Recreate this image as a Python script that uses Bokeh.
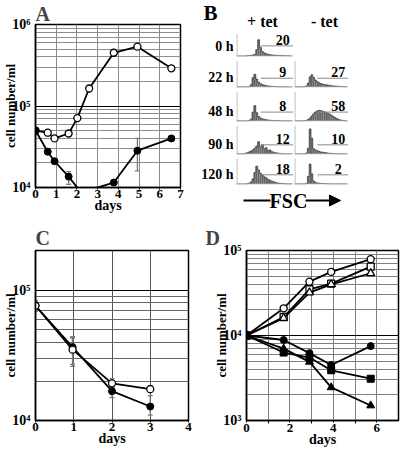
import numpy as np
from bokeh.plotting import figure
from bokeh.models import (FixedTicker, ColumnDataSource, Whisker, TeeHead, Arrow,
                          NormalHead, Range1d, Spacer, Span)
from bokeh.layouts import row, column
from bokeh.embed import file_html
from bokeh.resources import INLINE
from bokeh.core.properties import value

FONT = "Liberation Serif"

# ---------------- Panel A data ----------------
a_days_open = [0, 0.59, 0.92, 1.6, 2.02, 2.59, 3.78, 4.92, 6.56]
a_open = [5.0e4, 4.7e4, 4.0e4, 4.6e4, 7.1e4, 1.64e5, 4.5e5, 5.35e5, 2.9e5]
a_days_filled = [0, 0.59, 0.92, 1.6, 2.2, 3.78, 4.92, 6.56]
a_filled = [5.0e4, 2.75e4, 2.1e4, 1.36e4, 8.7e3, 1.15e4, 2.83e4, 4.0e4]
a_err_days = [0.59, 1.6, 4.92]
a_err_upper = [3.0e4, 1.57e4, 4.0e4]
a_err_lower = [2.6e4, 1.09e4, 1.6e4]

# ---------------- Panel C data ----------------
c_days = [0, 0.97, 2.0, 3.0]
c_open = [7.6e4, 3.5e4, 1.93e4, 1.74e4]
c_filled = [7.6e4, 3.66e4, 1.68e4, 1.28e4]
c_open_upper = [8.4e4, 4.4e4, 2.1e4, 1.85e4]
c_open_lower = [6.9e4, 2.7e4, 1.8e4, 1.65e4]
c_filled_upper = [8.2e4, 4.3e4, 1.85e4, 1.55e4]
c_filled_lower = [7.0e4, 2.6e4, 1.5e4, 1.1e4]

# ---------------- Panel D data ----------------
d_days = [0, 1.71, 2.9, 3.9, 5.72]
d_open_circle = [1e4, 2.09e4, 4.3e4, 5.6e4, 7.9e4]
d_open_square = [1e4, 1.65e4, 3.5e4, 4.07e4, 6.45e4]
d_open_triangle = [1e4, 1.6e4, 3.2e4, 4.0e4, 5.4e4]
d_filled_circle = [1e4, 8.85e3, 6.2e3, 4.5e3, 7.5e3]
d_filled_square = [1e4, 6.3e3, 5.5e3, 3.9e3, 3.1e3]
d_filled_triangle = [1e4, 7.0e3, 4.9e3, 2.45e3, 1.5e3]

# ---------------- Panel B data (FSC histograms, 30 bins each) ----------------
row_labels = ["0 h", "22 h", "48 h", "90 h", "120 h"]
hist_plus_0 = [0,0,0,0,0,1,2,3,4,8,28,72,38,20,14,10,8,6,5,4,3,3,2,2,1,1,1,1,0,0]
hist_plus_22 = [0,0,0,0,0,0,1,8,35,48,30,18,12,9,7,5,4,3,2,2,1,1,0,0,0,0,0,0,0,0]
hist_plus_48 = [0,0,0,0,0,0,1,6,30,52,28,15,10,7,5,4,3,2,2,1,1,1,0,0,0,0,0,0,0,0]
hist_plus_90 = [0,0,0,0,2,4,7,10,14,20,28,43,25,32,18,22,12,14,8,6,4,3,2,1,0,0,0,0,0,0]
hist_plus_120 = [0,0,0,0,0,1,3,8,20,45,70,55,42,35,28,24,18,15,11,9,6,4,3,2,1,1,0,0,0,0]
hist_minus_22 = [0,0,0,0,0,1,4,15,38,46,36,26,20,16,13,11,9,8,7,6,5,4,3,3,2,2,1,1,0,0]
hist_minus_48 = [0,0,0,0,0,0,2,5,10,17,24,30,34,36,35,33,31,28,26,23,19,15,11,8,5,3,2,1,0,0]
hist_minus_90 = [0,0,0,0,0,0,3,20,88,55,18,14,11,9,7,6,5,4,3,2,2,1,1,1,0,0,0,0,0,0]
hist_minus_120 = [0,0,0,0,0,0,2,30,78,40,12,6,4,3,2,2,1,1,1,0,0,0,0,0,0,0,0,0,0,0]
pct_plus = [20, 9, 8, 12, 18]
pct_minus = [None, 27, 58, 10, 2]
gate_level = [45, 33, 30, 32, 36]


def style_log_fig(p):
    p.outline_line_color = "black"
    p.outline_line_width = 1.5
    p.axis.axis_line_width = 1.5
    p.axis.axis_line_color = "black"
    p.axis.major_tick_in = 0
    p.xaxis.major_tick_out = 2
    p.yaxis.major_tick_out = 0
    p.axis.minor_tick_line_color = None
    p.axis.major_label_text_font = FONT
    p.axis.major_label_text_font_style = "bold"
    p.yaxis.major_label_text_font_size = "14px"
    p.xaxis.major_label_text_font_size = "13px"
    p.axis.major_label_text_color = "black"
    p.yaxis.major_label_standoff = 1
    p.xaxis.major_label_standoff = 0
    p.axis.axis_label_text_font = FONT
    p.axis.axis_label_text_font_style = "bold"
    p.axis.axis_label_text_color = "black"
    p.xaxis.axis_label = "days"
    p.xaxis.axis_label_text_font_size = "14px"
    p.xaxis.axis_label_standoff = -3
    p.yaxis.axis_label = "cell number/ml"
    p.yaxis.axis_label_text_font_size = "13px"
    p.yaxis.axis_label_standoff = -9
    p.title.text_font = FONT
    p.title.text_font_style = "bold"
    p.title.text_font_size = "20px"
    p.title.standoff = 0


def sup_labels(vals):
    sup = {3: "10\u00b3", 4: "10\u2074", 5: "10\u2075", 6: "10\u2076"}
    return {v: sup[int(round(np.log10(v)))] for v in vals}


def minor_list(decades):
    return [m * 10.0 ** d for d in decades for m in range(2, 10)]


def open_marker(p, x, y, marker="circle", size=7):
    p.scatter(x, y, marker=marker, size=size, fill_color="white", line_color="black", line_width=1.3)


def filled_marker(p, x, y, marker="circle", size=7):
    p.scatter(x, y, marker=marker, size=size, fill_color="black", line_color="black", line_width=1.0)


def add_err(p, x, up, lo):
    src = ColumnDataSource(dict(x=x, upper=up, lower=lo))
    w = Whisker(source=src, base="x", upper="upper", lower="lower",
                line_color="#7a7a7a", line_width=1.3,
                upper_head=TeeHead(size=5, line_color="#7a7a7a", line_width=1.3),
                lower_head=TeeHead(size=5, line_color="#7a7a7a", line_width=1.3))
    p.add_layout(w)


# ---------------- Panel A ----------------
pA = figure(width=200, height=222, x_range=Range1d(0, 7), y_range=Range1d(1e4, 1e6),
            y_axis_type="log", output_backend="svg", toolbar_location=None, title="A",
            min_border_left=33, min_border_right=20, min_border_top=23, min_border_bottom=35)
style_log_fig(pA)
yt = [1e4, 1e5, 1e6]
pA.yaxis.ticker = FixedTicker(ticks=yt, minor_ticks=minor_list([4, 5]))
pA.yaxis.major_label_overrides = sup_labels(yt)
pA.xaxis.ticker = FixedTicker(ticks=list(range(0, 8)))
pA.ygrid.grid_line_color = "black"
pA.ygrid.grid_line_width = 1.2
pA.ygrid.minor_grid_line_color = "#8c8c8c"
pA.xgrid.grid_line_color = "#8c8c8c"
add_err(pA, a_err_days, a_err_upper, a_err_lower)
pA.line(a_days_open, a_open, line_color="black", line_width=1.8)
open_marker(pA, a_days_open, a_open)
pA.line(a_days_filled, a_filled, line_color="black", line_width=1.8)
filled_marker(pA, a_days_filled, a_filled)

# ---------------- Panel C ----------------
pC = figure(width=200, height=228, x_range=Range1d(0, 4), y_range=Range1d(1e4, 2.02e5),
            y_axis_type="log", output_backend="svg", toolbar_location=None, title="C",
            min_border_left=33, min_border_right=12, min_border_top=26, min_border_bottom=30)
style_log_fig(pC)
pC.title.standoff = 3
ytc = [1e4, 1e5]
pC.yaxis.ticker = FixedTicker(ticks=ytc, minor_ticks=minor_list([4]))
pC.yaxis.major_label_overrides = sup_labels(ytc)
pC.xaxis.ticker = FixedTicker(ticks=[0, 1, 2, 3, 4])
pC.ygrid.grid_line_color = "black"
pC.ygrid.grid_line_width = 1.2
pC.ygrid.minor_grid_line_color = "#666666"
pC.xgrid.grid_line_color = "#555555"
add_err(pC, c_days, c_filled_upper, c_filled_lower)
add_err(pC, c_days, c_open_upper, c_open_lower)
pC.line(c_days, c_filled, line_color="black", line_width=1.8)
filled_marker(pC, c_days, c_filled)
pC.line(c_days, c_open, line_color="black", line_width=1.8)
open_marker(pC, c_days, c_open)

# ---------------- Panel D ----------------
pD = figure(width=200, height=228, x_range=Range1d(0, 7), y_range=Range1d(1e3, 1e5),
            y_axis_type="log", output_backend="svg", toolbar_location=None, title="D",
            min_border_left=46, min_border_right=2, min_border_top=27, min_border_bottom=30)
style_log_fig(pD)
pD.title.standoff = 4
pD.title.offset = -41
ytd = [1e3, 1e4, 1e5]
pD.yaxis.ticker = FixedTicker(ticks=ytd, minor_ticks=minor_list([3, 4]))
pD.yaxis.major_label_overrides = sup_labels(ytd)
pD.xaxis.ticker = FixedTicker(ticks=[0, 2, 4, 6], minor_ticks=[1, 3, 5])
pD.xaxis.minor_tick_line_color = "black"
pD.xaxis.minor_tick_in = 0
pD.xaxis.minor_tick_out = 3
pD.ygrid.grid_line_color = "black"
pD.ygrid.grid_line_width = 1.2
pD.ygrid.minor_grid_line_color = "#808080"
pD.xgrid.grid_line_color = "#808080"
pD.xgrid.minor_grid_line_color = "#808080"
for ys, mk, sz in [(d_open_circle, "circle", 7), (d_open_square, "square", 7),
                   (d_open_triangle, "triangle", 8)]:
    pD.line(d_days, ys, line_color="black", line_width=1.8)
    open_marker(pD, d_days, ys, mk, sz)
for ys, mk, sz in [(d_filled_circle, "circle", 7), (d_filled_square, "square", 7),
                   (d_filled_triangle, "triangle", 8)]:
    pD.line(d_days, ys, line_color="black", line_width=1.8)
    filled_marker(pD, d_days, ys, mk, sz)


# ---------------- Panel B ----------------
def blank_fig(w, h, xr, yr):
    f = figure(width=w, height=h, x_range=xr, y_range=yr, output_backend="svg",
               toolbar_location=None, x_axis_location=None, y_axis_location=None,
               min_border=0, min_border_left=0, min_border_right=0,
               min_border_top=0, min_border_bottom=0)
    f.grid.visible = False
    f.outline_line_color = None
    return f


def hist_fig(counts, gate_y, pct, width, height):
    p = figure(width=width, height=height, x_range=Range1d(-8, 1024), y_range=Range1d(-2, 100),
               output_backend="svg", toolbar_location=None,
               x_axis_location=None, y_axis_location=None,
               min_border=0, min_border_left=1, min_border_right=0,
               min_border_top=3, min_border_bottom=1)
    p.grid.visible = False
    p.outline_line_color = None
    p.add_layout(Span(location=0, dimension="height", line_color="#a8a8a8", line_width=1))
    p.add_layout(Span(location=0, dimension="width", line_color="#a8a8a8", line_width=1))
    edges = np.linspace(0, 1024, len(counts) + 1)
    p.quad(left=edges[:-1], right=edges[1:], bottom=0, top=counts,
           fill_color="#666666", line_color=None)
    p.step(x=edges[:-1], y=counts, mode="after", line_color="#444444", line_width=0.8)
    p.segment(x0=[430], y0=[gate_y], x1=[1020], y1=[gate_y], line_color="#8a8a8a", line_width=1)
    p.text(x=[830], y=[gate_y], text=[str(pct)], text_align="center", text_baseline="bottom",
           y_offset=-1, text_font=value(FONT), text_font_style="bold", text_font_size="14px",
           text_color="black")
    return p


def label_fig(text, height):
    f = blank_fig(35, height, Range1d(0, 35), Range1d(0, height))
    f.text(x=[33], y=[0], text=[text], text_align="right", text_baseline="bottom",
           y_offset=-3, text_font=value(FONT), text_font_style="bold",
           text_font_size="14px", text_color="black")
    return f


plus_hists = [hist_plus_0, hist_plus_22, hist_plus_48, hist_plus_90, hist_plus_120]
minus_hists = [None, hist_minus_22, hist_minus_48, hist_minus_90, hist_minus_120]
row_heights = [27, 31, 34, 33, 30]

hist_rows = []
for i in range(5):
    h = row_heights[i]
    hp = hist_fig(plus_hists[i], gate_level[i], pct_plus[i], 58, h)
    if minus_hists[i] is None:
        hm = Spacer(width=55, height=h)
    else:
        hm = hist_fig(minus_hists[i], gate_level[i], pct_minus[i], 55, h)
    hist_rows.append(row(label_fig(row_labels[i], h), hp, hm, Spacer(width=52, height=h)))

header = blank_fig(200, 30, Range1d(0, 200), Range1d(0, 30))
header.text(x=[3], y=[30], text=["B"], text_align="left", text_baseline="top",
            text_font=value(FONT), text_font_style="bold", text_font_size="21px")
header.text(x=[62, 124], y=[1, 1], text=["+ tet", "- tet"], text_align="center",
            text_baseline="bottom", text_font=value(FONT), text_font_style="bold",
            text_font_size="16px")

footer = blank_fig(200, 37, Range1d(0, 200), Range1d(0, 37))
footer.segment(x0=[43], y0=[22], x1=[70], y1=[22], line_color="black", line_width=2)
footer.text(x=[88], y=[22], text=["FSC"], text_align="center", text_baseline="middle",
            text_font=value(FONT), text_font_style="bold", text_font_size="20px")
footer.add_layout(Arrow(x_start=105, y_start=22, x_end=140, y_end=22, line_width=2,
                        line_color="black",
                        end=NormalHead(size=11, fill_color="black", line_color="black")))

panelB = column(header, *hist_rows, footer)

layout = column(row(pA, panelB), row(pC, pD))

with open("out.html", "w") as fh:
    fh.write(file_html(layout, INLINE))
